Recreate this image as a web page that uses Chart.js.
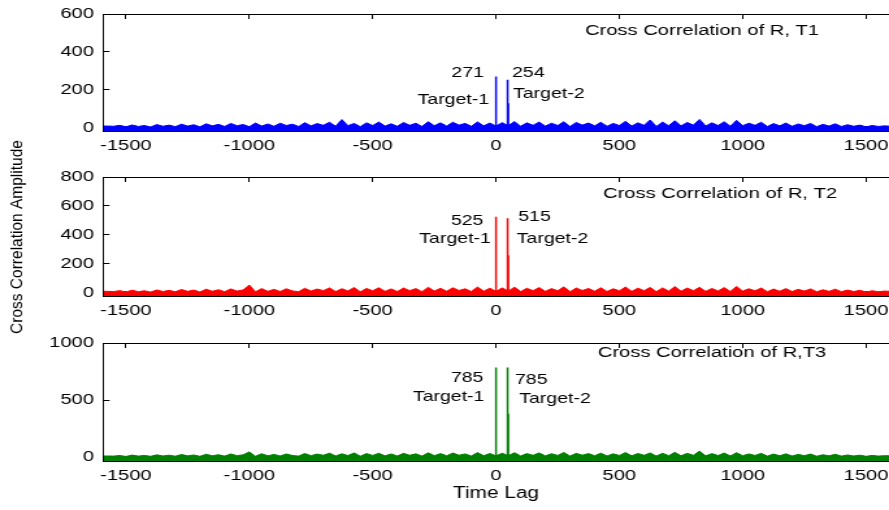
<!DOCTYPE html>
<html>
<head>
<meta charset="utf-8">
<script src="https://cdn.jsdelivr.net/npm/chart.js@4.4.0/dist/chart.umd.min.js"></script>
<style>
html, body { margin: 0; padding: 0; background: #fff; overflow: hidden; }
#wrap { position: relative; width: 889px; height: 510px; overflow: hidden; }
#wrap canvas { position: absolute; left: 0; top: 0; }
</style>
</head>
<body>
<div id="wrap">
	<canvas id="c1" width="684" height="510" style="width:889px;height:510px"></canvas>
	<canvas id="c2" width="684" height="510" style="width:889px;height:510px"></canvas>
	<canvas id="c3" width="684" height="510" style="width:889px;height:510px"></canvas>
</div>
<script>
// lag axis of the noise floor
const noiseLags = [-1600,-1575,-1550,-1525,-1500,-1475,-1450,-1425,-1400,-1375,-1350,-1325,-1300,-1275,-1250,-1225,
	-1200,-1175,-1150,-1125,-1100,-1075,-1050,-1025,-1000,-975,-950,-925,-900,-875,-850,-825,
	-800,-775,-750,-725,-700,-675,-650,-625,-600,-575,-550,-525,-500,-475,-450,-425,
	-400,-375,-350,-325,-300,-275,-250,-225,-200,-175,-150,-125,-100,-75,-50,-25,
	0,
	25,50,75,100,125,150,175,200,225,250,275,300,325,350,375,400,
	425,450,475,500,525,550,575,600,625,650,675,700,725,750,775,800,
	825,850,875,900,925,950,975,1000,1025,1050,1075,1100,1125,1150,1175,1200,
	1225,1250,1275,1300,1325,1350,1375,1400,1425,1450,1475,1500,1525,1550,1575,1600];

// noise floor
const noise1 = [10,10,9,14,6,16,8,13,5,18,9,15,7,20,10,17,
	6,22,11,19,8,24,12,18,7,26,10,21,9,25,13,20,
	8,28,11,23,14,30,9,44,12,24,7,27,13,31,10,22,
	9,29,14,25,8,33,12,27,10,30,15,24,9,32,11,26,
	10,
	28,12,34,9,27,14,31,10,25,13,33,8,29,15,26,11,
	30,9,24,13,35,10,27,14,42,8,31,12,38,11,29,15,
	45,10,27,13,33,9,40,12,25,14,30,8,23,11,26,9,
	21,12,24,7,19,10,22,8,17,9,15,6,13,8,11,9];
const noise2 = [12,11,10,16,7,19,9,15,6,21,10,18,8,24,11,20,
	7,26,12,22,9,28,13,21,55,8,30,11,25,10,29,14,
	9,32,13,27,16,35,10,29,14,38,8,31,15,36,11,28,
	10,34,16,30,9,39,13,32,12,36,17,29,10,41,12,33,
	11,
	35,13,40,10,32,16,37,11,30,15,42,9,34,17,31,12,
	36,10,29,15,41,11,33,16,38,9,35,13,44,12,34,16,
	39,11,31,14,37,10,45,13,29,15,34,9,27,12,30,10,
	25,13,28,8,22,11,26,9,20,10,18,7,15,9,13,11];
const noise3 = [9,9,8,13,5,17,8,14,6,19,9,16,7,22,10,18,
	6,24,11,20,8,27,12,19,45,7,29,10,23,9,27,13,
	8,31,12,26,15,34,9,28,13,36,7,30,14,33,10,27,
	9,32,15,28,8,37,12,30,11,35,16,27,9,39,11,31,
	10,
	33,12,38,9,30,15,36,10,29,14,40,8,32,16,30,11,
	34,9,28,14,39,10,31,15,36,8,33,12,41,11,32,15,
	52,10,30,13,35,9,38,12,27,14,32,8,26,11,28,9,
	23,12,26,7,20,10,24,8,18,9,16,6,14,8,12,10];

// correlation peaks (Target-1, Target-2, Target-2 shoulder)
const peakLags = [0, 47, 50];
const peaks1 = [271, 254, 130];
const peaks2 = [525, 515, 260];
const peaks3 = [785, 785, 380];

const targetNames = ['Target-1', 'Target-2'];
const titles = ['Cross Correlation of R, T1', 'Cross Correlation of R, T2', 'Cross Correlation of R,T3'];

// tick labels
const xTicks = [-1500, -1000, -500, 0, 500, 1000, 1500];
const yTicks1 = [0, 200, 400, 600];
const yTicks2 = [0, 200, 400, 600, 800];
const yTicks3 = [0, 500, 1000];

const xMin = -1593, xMax = 1593;
const SX = 889 / 684; // canvases are drawn narrow and stretched (wide MATLAB font)
const FONT = '"Liberation Sans", Arial, sans-serif';

Chart.defaults.font.family = FONT;
Chart.defaults.color = '#000';

// texts inside each axes, placed in data units
const textPlugin = {
	id: 'panelText',
	afterDatasetsDraw(chart, args, opts) {
		const { ctx } = chart;
		const x = chart.scales.x, y = chart.scales.y;
		ctx.save();
		ctx.fillStyle = '#000';
		ctx.textBaseline = 'middle';
		(opts.items || []).forEach(t => {
			ctx.font = t.size + 'px ' + FONT;
			ctx.textAlign = t.align;
			ctx.fillText(t.text, x.getPixelForValue(t.pos[0]), y.getPixelForValue(t.pos[1]));
		});
		if (opts.yTitle) {
			// the rotated label is not widened in the original
			ctx.scale(1 / SX, 1);
			ctx.translate(17.5, 237);
			ctx.rotate(-Math.PI / 2);
			ctx.font = '15.5px ' + FONT;
			ctx.textAlign = 'center';
			ctx.fillText(opts.yTitle, 0, 0);
		}
		ctx.restore();
	}
};

const panels = [
	{ id: 'c1', noise: noise1, peaks: peaks1, color: '#0000ff', yMin: -16, yMax: 600, yTicks: yTicks1,
		padTop: 14, padBottom: 349, axisH: 30, title: titles[0],
		pos: { title: [361, 511], v1: [-49, 288], t1: [-28, 150], v2: [65, 288], t2: [69, 180] } },
	{ id: 'c2', noise: noise2, peaks: peaks2, color: '#ff0000', yMin: -21, yMax: 800, yTicks: yTicks2,
		padTop: 177, padBottom: 184, axisH: 30, title: titles[1], yTitle: 'Cross Correlation Amplitude',
		pos: { title: [434, 683], v1: [-51, 499], t1: [-21, 372], v2: [90, 522], t2: [84, 372] } },
	{ id: 'c3', noise: noise3, peaks: peaks3, color: '#008000', yMin: -35, yMax: 1000, yTicks: yTicks3,
		padTop: 343, padBottom: 0, axisH: 49, title: titles[2], xTitle: 'Time Lag',
		pos: { title: [413, 912], v1: [-51, 690], t1: [-47, 524], v2: [77, 675], t2: [94, 509] } }
];

const setTicks = vals => scale => { scale.ticks = vals.map(v => ({ value: v })); };
const gridIn = { drawOnChartArea: false, drawTicks: true, tickLength: -5, color: '#000', lineWidth: 1 };

panels.forEach(p => {
	const items = [
		{ text: p.title, pos: p.pos.title, align: 'left', size: 15.5 },
		{ text: String(p.peaks[0]), pos: p.pos.v1, align: 'right', size: 15 },
		{ text: targetNames[0], pos: p.pos.t1, align: 'right', size: 15 },
		{ text: String(p.peaks[1]), pos: p.pos.v2, align: 'left', size: 15 },
		{ text: targetNames[1], pos: p.pos.t2, align: 'left', size: 15 }
	];
	new Chart(document.getElementById(p.id), {
		type: 'line',
		data: {
			datasets: [
				{
					data: noiseLags.map((l, i) => ({ x: l, y: p.noise[i] })),
					borderColor: p.color, backgroundColor: p.color, borderWidth: 1,
					pointRadius: 0, tension: 0, fill: { value: -300 }, clip: 0
				},
				{
					data: peakLags.flatMap((l, i) => [{ x: l, y: 0 }, { x: l, y: p.peaks[i] }, { x: l, y: 0 }]),
					borderColor: p.color, borderWidth: 1.5, pointRadius: 0, tension: 0, fill: false, clip: 0
				}
			]
		},
		options: {
			responsive: false,
			animation: false,
			layout: { padding: { left: 0, right: 0, top: p.padTop, bottom: p.padBottom } },
			plugins: {
				legend: { display: false },
				tooltip: { enabled: false },
				panelText: { items, yTitle: p.yTitle }
			},
			scales: {
				x: {
					type: 'linear', position: 'bottom', min: xMin, max: xMax,
					afterBuildTicks: setTicks(xTicks),
					afterFit: s => { s.height = p.axisH; s.paddingLeft = 0; s.paddingRight = 0; },
					grid: gridIn,
					border: { color: '#000', z: 1 },
					ticks: { padding: 10, font: { size: 15.5 }, maxRotation: 0, autoSkip: false, callback: v => String(v) },
					title: { display: !!p.xTitle, text: p.xTitle || '', font: { size: 16 }, padding: { top: 0, bottom: 7 } }
				},
				x2: {
					type: 'linear', position: 'top', min: xMin, max: xMax,
					afterBuildTicks: setTicks(xTicks),
					afterFit: s => { s.height = 0; s.paddingLeft = 0; s.paddingRight = 0; },
					grid: gridIn,
					border: { color: '#000', z: 1 },
					ticks: { display: false }
				},
				y: {
					type: 'linear', position: 'left', min: p.yMin, max: p.yMax,
					afterBuildTicks: setTicks(p.yTicks),
					afterFit: s => { s.width = 79.25; s.paddingTop = 0; s.paddingBottom = 0; },
					grid: gridIn,
					border: { color: '#000', z: 1 },
					ticks: { padding: 12, font: { size: 15.5 }, callback: v => String(v) }
				}
			}
		},
		plugins: [textPlugin]
	});
});
</script>
</body>
</html>
